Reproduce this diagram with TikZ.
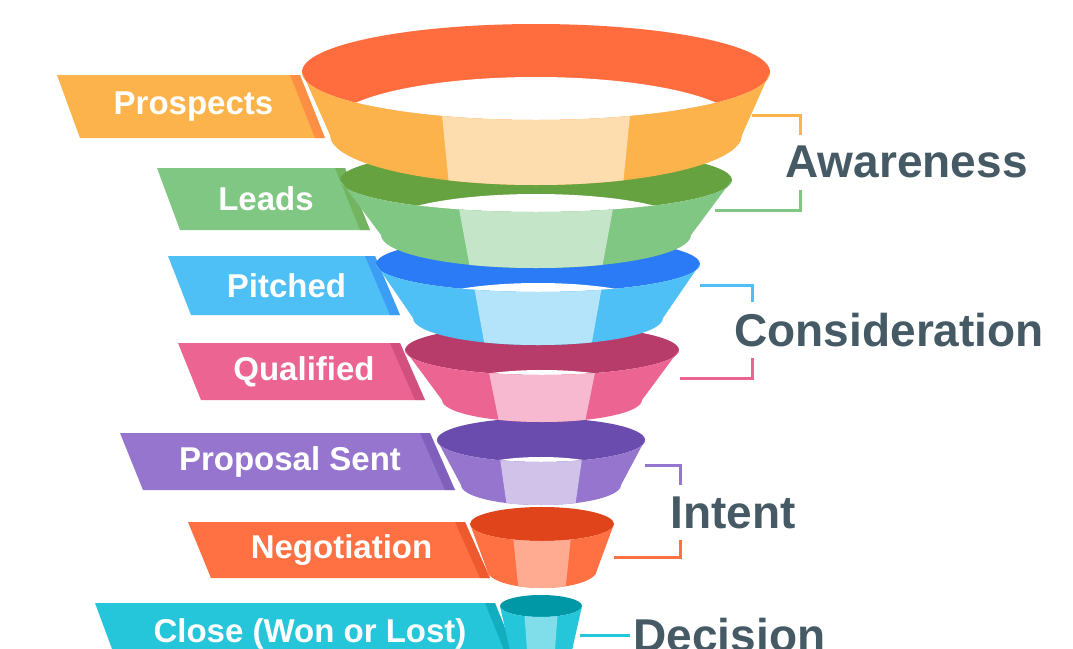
\documentclass[tikz,border=0pt]{standalone}
\usepackage{fontspec}
\setmainfont{Liberation Sans}
\definecolor{aDark}{HTML}{FF6D3F}\definecolor{aMain}{HTML}{FCB34B}\definecolor{aLight}{HTML}{FDDCAE}
\definecolor{bDark}{HTML}{66A23F}\definecolor{bMain}{HTML}{80C783}\definecolor{bLight}{HTML}{C5E5C8}
\definecolor{cDark}{HTML}{2A7BF5}\definecolor{cMain}{HTML}{4FC0F5}\definecolor{cLight}{HTML}{B3E4FA}
\definecolor{dDark}{HTML}{B83C6A}\definecolor{dMain}{HTML}{EC6592}\definecolor{dLight}{HTML}{F7B9CF}
\definecolor{eDark}{HTML}{6A4CAE}\definecolor{eMain}{HTML}{9575CD}\definecolor{eLight}{HTML}{D0C2E9}
\definecolor{fDark}{HTML}{E0441A}\definecolor{fMain}{HTML}{FF7043}\definecolor{fLight}{HTML}{FFAB91}
\definecolor{gDark}{HTML}{0097A7}\definecolor{gMain}{HTML}{26C6DA}\definecolor{gLight}{HTML}{80DEEA}
\definecolor{stageText}{HTML}{455A64}
% ring: cx, top y, rx, ry, bottom y, rx, ry, colour prefix
\newcommand{\ring}[8]{
  \fill[#8Dark] (#1,#2) ellipse [x radius=#3, y radius=#4];
  \begin{scope}
    \clip (#1,#2) ellipse [x radius=#3, y radius=#4];
    \fill[white] (#1,{#5-8}) ellipse [x radius=#6, y radius=#7];
  \end{scope}
  \begin{scope}
    \clip ({#1-#3},#2) arc[start angle=180, end angle=0, x radius=#3, y radius=#4]
      -- ({#1+#6},#5) arc[start angle=0, end angle=180, x radius=#6, y radius=#7] -- cycle;
    \fill[#8Main] (0,0) rectangle (1073,700);
    \fill[#8Light] ({#1-0.42*#3},#2) -- ({#1+0.42*#3},#2)
      -- ({#1+0.42*#6},{#5+#7+5}) -- ({#1-0.42*#6},{#5+#7+5}) -- cycle;
  \end{scope}
}
% ribbon: top y, bottom y, left x, right x, colour prefix, name, text
\newcommand{\ribbon}[7]{
  \fill[#5Main] (#3,#1) -- (#4,#1) -- ({#4+25},#2) -- ({#3+23},#2) -- cycle;
  \fill[#5Dark, opacity=0.5] ({#4-10},#1) -- (#4,#1) -- ({#4+25},#2) -- ({#4+15},#2) -- cycle;
  \node[ribtext] (#6) at ({(#3+#4)/2+15},{(#1+#2)/2}) {#7};
}
\tikzset{
  ribtext/.style={text=white, font=\bfseries\fontsize{33}{34}\selectfont},
  stage/.style={text=stageText, font=\bfseries\fontsize{46}{48}\selectfont, anchor=west},
  bracket/.style={line width=3pt}
}
\begin{document}
\begin{tikzpicture}[x=1pt, y=-1pt]
\useasboundingbox (0,0) rectangle (1073,648);
\fill[white] (0,0) rectangle (1073,648);

% ribbons
\ribbon{75}{138}{57}{300}{a}{prospects}{Prospects}
\ribbon{168}{230}{157}{345}{b}{leads}{Leads}
\ribbon{256}{315}{168}{375}{c}{pitched}{Pitched}
\ribbon{343}{400}{178}{400}{d}{qualified}{Qualified}
\ribbon{433}{490}{120}{430}{e}{proposal}{Proposal Sent}
\ribbon{522}{578}{188}{465}{f}{negotiation}{Negotiation}
\ribbon{603}{665}{95}{495}{g}{close}{Close (Won or Lost)}

% funnel, bottom ring first
\ring{541}{606}{41}{11}{655}{30}{9}{g}
\ring{542}{524}{72}{17}{570}{55}{18}{f}
\ring{541}{440}{104}{22}{485}{80}{20}{e}
\ring{542}{350}{137}{25}{400}{100}{22}{d}
\ring{538}{264}{162}{28}{318}{125}{27}{c}
\ring{536}{180}{196}{32}{235}{155}{33}{b}
\ring{536}{72}{234}{48}{135}{206}{50}{a}

% stages
\node[stage] (awareness) at (782,162) {Awareness};
\node[stage] (consideration) at (731,330) {Consideration};
\node[stage] (intent) at (667,513) {Intent};
\node[stage] (decision) at (630,635) {Decision};

\coordinate (aw1) at (752,115); \coordinate (aw2) at (715,210);
\coordinate (co1) at (700,285); \coordinate (co2) at (680,378);
\coordinate (in1) at (645,465); \coordinate (in2) at (614,557);
\coordinate (de1) at (580,635);
\draw[bracket, aMain] (aw1) -- (800,115) -- (800,135);
\draw[bracket, bMain] (800,190) -- (800,210) -- (aw2);
\draw[bracket, cMain] (co1) -- (752,285) -- (752,302);
\draw[bracket, dMain] (752,358) -- (752,378) -- (co2);
\draw[bracket, eMain] (in1) -- (680,465) -- (680,485);
\draw[bracket, fMain] (680,540) -- (680,557) -- (in2);
\draw[bracket, gMain] (de1) -- (decision.west);
\end{tikzpicture}
\end{document}
